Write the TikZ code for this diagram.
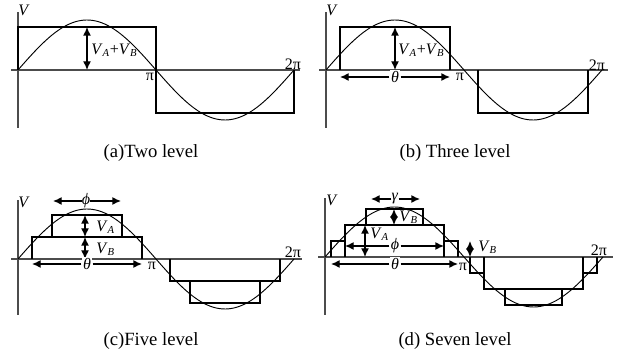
\documentclass[tikz,border=0pt]{standalone}
\usepackage{fontspec}
\setmainfont{Liberation Serif}
\usetikzlibrary{arrows.meta}
\newcommand{\Vs}[1]{\textit{V}\textsubscript{\textit{#1}}}

\begin{document}
\begin{tikzpicture}[x=0.75pt,y=0.75pt,
  axis/.style={line width=0.8pt,black!70},
  wave/.style={line width=1.4pt},
  sine/.style={line width=0.7pt},
  dimarrow/.style={{Latex[length=6.5pt,width=6pt]}-{Latex[length=6.5pt,width=6pt]},line width=1pt},
  onearrow/.style={-{Latex[length=6.5pt,width=6pt]},line width=1pt},
  lbl/.style={inner sep=0pt,font=\fontsize{12}{14}\selectfont},
  captext/.style={inner sep=0pt,font=\fontsize{14}{16}\selectfont}]
\useasboundingbox (0,0) rectangle (618,364);

% (a) two level
\begin{scope}[shift={(18,294)}]
  \draw[axis] (-7,0) -- (282,0);
  \draw[axis] (0,-58) -- (0,58);
  \draw[sine] plot[domain=0:276,samples=90,smooth] (\x,{50*sin(\x/138*180)});
  \draw[wave] (0,0) |- (138,43) -- (138,-43) -| (276,0);
  \draw[dimarrow] (69,0) -- (69,43);
  \node[lbl] (vA) at (6,60) {\textit{V}};
  \node[lbl,anchor=west] (sumA) at (73,20) {\Vs{A}+\Vs{B}};
  \node[lbl] (piA) at (132,-7) {π};
  \node[lbl] (tpiA) at (275,6) {2π};
\end{scope}
\node[captext] (capA) at (151,211) {(a)Two level};

% (b) three level
\begin{scope}[shift={(326,294)}]
  \draw[axis] (-7,0) -- (282,0);
  \draw[axis] (0,-58) -- (0,58);
  \draw[sine] plot[domain=0:276,samples=90,smooth] (\x,{50*sin(\x/138*180)});
  \draw[wave] (14,0) |- (124,43) -- (124,0);
  \draw[wave] (152,0) |- (262,-43) -- (262,0);
  \draw[dimarrow] (69,0) -- (69,43);
  \node[lbl,fill=white,inner sep=1pt] (thB) at (69,-7) {\textit{θ}};
  \draw[onearrow] (thB.west) -- (14,-7);
  \draw[onearrow] (thB.east) -- (124,-7);
  \node[lbl] (vB) at (6,60) {\textit{V}};
  \node[lbl,anchor=west] (sumB) at (72,20) {\Vs{A}+\Vs{B}};
  \node[lbl] (piB) at (134,-7) {π};
  \node[lbl] (tpiB) at (271,5) {2π};
\end{scope}
\node[captext] (capB) at (455,211) {(b) Three level};

% (c) five level
\begin{scope}[shift={(18,105)}]
  \draw[axis] (-7,0) -- (284,0);
  \draw[axis] (0,-56) -- (0,59);
  \draw[sine] plot[domain=0:276,samples=90,smooth] (\x,{50*sin(\x/138*180)});
  \draw[wave] (14,0) |- (124,22) -- (124,0);
  \draw[wave] (34,22) |- (104,44) -- (104,22);
  \draw[wave] (152,0) |- (262,-22) -- (262,0);
  \draw[wave] (172,-22) |- (242,-44) -- (242,-22);
  \draw[dimarrow] (67,22) -- (67,44);
  \draw[dimarrow] (67,0) -- (67,22);
  \node[lbl,anchor=west] (vaC) at (78,32) {\Vs{A}};
  \node[lbl,anchor=west] (vbC) at (78,10) {\Vs{B}};
  \node[lbl] (phC) at (68,58) {\textit{ϕ}};
  \draw[onearrow] (phC.west) -- (35,58);
  \draw[onearrow] (phC.east) -- (103,58);
  \node[lbl,fill=white,inner sep=1pt] (thC) at (69,-5) {\textit{θ}};
  \draw[onearrow] (thC.west) -- (14,-5);
  \draw[onearrow] (thC.east) -- (124,-5);
  \node[lbl] (vC) at (6,57) {\textit{V}};
  \node[lbl] (piC) at (134,-7) {π};
  \node[lbl] (tpiC) at (275,7) {2π};
\end{scope}
\node[captext] (capC) at (151,23) {(c)Five level};

% (d) seven level
\begin{scope}[shift={(325,107)}]
  \draw[axis] (-7,0) -- (288,0);
  \draw[axis] (0,-58) -- (0,59);
  \draw[sine] plot[domain=0:278,samples=90,smooth] (\x,{50*sin(\x/139*180)});
  \draw[wave] (6,0) |- (20,16);
  \draw[wave] (20,0) |- (119,32) -- (119,0);
  \draw[wave] (119,16) -| (133,0);
  \draw[wave] (41,32) |- (98,48) -- (98,32);
  \draw[wave] (145,0) |- (159,-16);
  \draw[wave] (159,0) |- (258,-32) -- (258,0);
  \draw[wave] (258,-16) -| (272,0);
  \draw[wave] (180,-32) |- (237,-48) -- (237,-32);
  \node[lbl] (gaD) at (70,58) {\textit{γ}};
  \draw[onearrow] (gaD.west) -- (46,58);
  \draw[onearrow] (gaD.east) -- (95,58);
  \draw[dimarrow] (69,32) -- (69,48);
  \node[lbl,anchor=west] (vbD) at (74,40) {\Vs{B}};
  \draw[dimarrow] (40,0) -- (40,32);
  \node[lbl,anchor=west] (vaD) at (45,23) {\Vs{A}};
  \node[lbl,fill=white,inner sep=1pt] (phD) at (70,11) {\textit{ϕ}};
  \draw[onearrow] (phD.west) -- (20,11);
  \draw[onearrow] (phD.east) -- (119,11);
  \node[lbl,fill=white,inner sep=1pt] (thD) at (70,-7) {\textit{θ}};
  \draw[onearrow] (thD.west) -- (6,-7);
  \draw[onearrow] (thD.east) -- (133,-7);
  \draw[dimarrow] (145,0) -- (145,16);
  \node[lbl,anchor=west] (vbD2) at (153,10) {\Vs{B}};
  \node[lbl] (vD) at (7,57) {\textit{V}};
  \node[lbl] (piD) at (138,-10) {π};
  \node[lbl] (tpiD) at (274,7) {2π};
\end{scope}
\node[captext] (capD) at (455,23) {(d) Seven level};
\end{tikzpicture}
\end{document}
